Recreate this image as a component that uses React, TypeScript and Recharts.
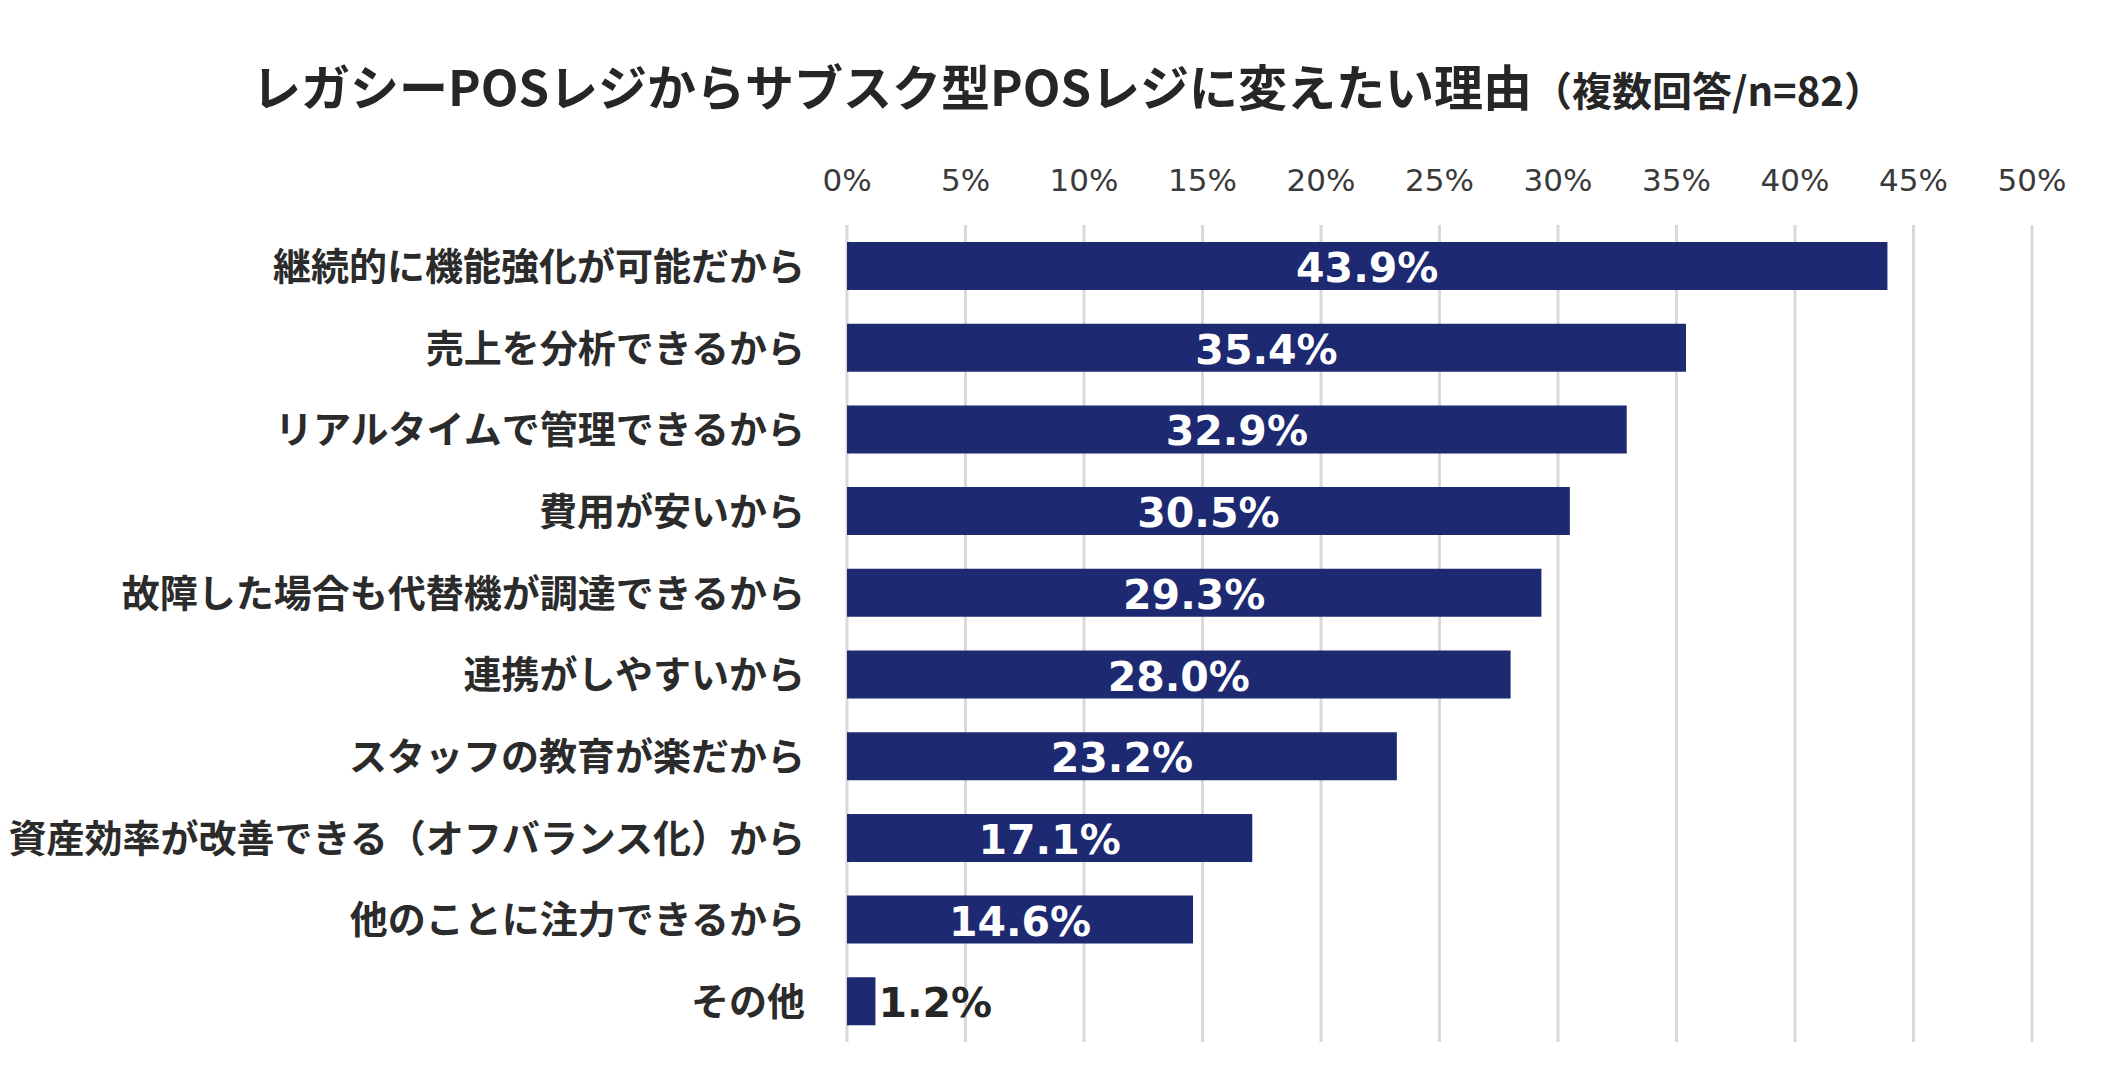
import React from 'react'
import {
  BarChart,
  Bar,
  XAxis,
  YAxis,
  CartesianGrid,
  LabelList,
} from 'recharts'

const categories = [
  '継続的に機能強化が可能だから',
  '売上を分析できるから',
  'リアルタイムで管理できるから',
  '費用が安いから',
  '故障した場合も代替機が調達できるから',
  '連携がしやすいから',
  'スタッフの教育が楽だから',
  '資産効率が改善できる（オフバランス化）から',
  '他のことに注力できるから',
  'その他',
]

const shares = [43.9, 35.4, 32.9, 30.5, 29.3, 28.0, 23.2, 17.1, 14.6, 1.2]

const xTicks = [0, 5, 10, 15, 20, 25, 30, 35, 40, 45, 50]

const data = categories.map((name, i) => ({ name, value: shares[i] }))

const CJK = '"Noto Sans CJK JP", "Noto Sans", sans-serif'
const LATIN = '"DejaVu Sans", Verdana, sans-serif'

const PercentTick = (props: any) => {
  const { x, y, payload } = props
  return (
    <text
      x={x}
      y={y}
      textAnchor='middle'
      fontFamily={LATIN}
      fontSize={31}
      fill='#3a3a3a'>
      {`${payload.value}%`}
    </text>
  )
}

const CategoryTick = (props: any) => {
  const { x, y, payload } = props
  return (
    <text
      x={x}
      y={y}
      dy={14}
      textAnchor='end'
      fontFamily={CJK}
      fontWeight={700}
      fontSize={38}
      fill='#2b2b2b'>
      {payload.value}
    </text>
  )
}

// small bars get their label outside, in dark text
const ValueLabel = (props: any) => {
  const { x, y, width, height, value } = props
  const text = `${Number(value).toFixed(1)}%`
  const cy = y + height / 2 + 16
  const inside = width >= 120
  return (
    <text
      x={inside ? x + width / 2 : x + width + 3}
      y={cy}
      textAnchor={inside ? 'middle' : 'start'}
      fontFamily={LATIN}
      fontWeight={700}
      fontSize={41}
      fill={inside ? '#ffffff' : '#262626'}>
      {text}
    </text>
  )
}

export default function App() {
  return (
    <div
      style={{
        position: 'absolute',
        left: 0,
        top: 0,
        width: 2118,
        height: 1092,
        background: '#ffffff',
      }}>
      <div
        style={{
          position: 'absolute',
          left: 252,
          top: 58,
          whiteSpace: 'nowrap',
          fontFamily: CJK,
          fontWeight: 700,
          color: '#262626',
          lineHeight: '54px',
        }}>
        <span style={{ fontSize: 49 }}>
          レガシーPOSレジからサブスク型POSレジに変えたい理由
        </span>
        <span style={{ fontSize: 40 }}>（複数回答/n=82）</span>
      </div>
      <BarChart
        width={2118}
        height={1092}
        data={data}
        layout='vertical'
        barSize={48}
        margin={{ top: 165, right: 86, bottom: 50, left: 0 }}>
        <CartesianGrid
          horizontal={false}
          stroke='#d9d9d9'
          strokeWidth={3}
        />
        <XAxis
          type='number'
          orientation='top'
          domain={[0, 50]}
          ticks={xTicks}
          height={60}
          axisLine={false}
          tickLine={false}
          tickSize={0}
          tickMargin={34}
          interval={0}
          tick={<PercentTick />}
        />
        <YAxis
          type='category'
          dataKey='name'
          width={847}
          axisLine={false}
          tickLine={false}
          tickSize={0}
          tickMargin={42}
          interval={0}
          tick={<CategoryTick />}
        />
        <Bar dataKey='value' fill='#1d2971' isAnimationActive={false}>
          <LabelList dataKey='value' content={<ValueLabel />} />
        </Bar>
      </BarChart>
    </div>
  )
}
